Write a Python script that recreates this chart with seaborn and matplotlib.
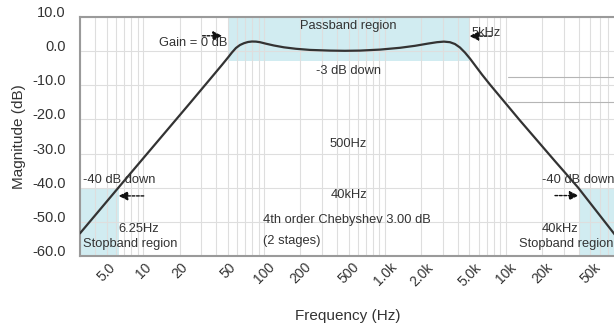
import numpy as np
import pandas as pd
import matplotlib
matplotlib.use("Agg")
import matplotlib.pyplot as plt
from matplotlib.ticker import LogLocator, NullFormatter
import seaborn as sns

# ---- data ----
freq_hz = [3.00, 6.80, 13.76, 24.4, 39.2, 44.9, 50.3, 54.2, 58.5, 63.2, 68.2, 73.6, 79.4,
           85.7, 92.5, 103.7, 120.7, 146.0, 183.5, 239.7, 350.6, 466.7, 621, 908.7, 1331,
           1771, 2267, 2692, 3075, 3448, 3792, 4171, 4587, 5046, 5657, 6342, 7385, 13080,
           25470, 39480, 80000]
magnitude_db = [-53.36, -38.4, -25.6, -15.2, -6.5, -4.0, -1.86, -0.40, 0.92, 1.80, 2.33, 2.68,
                2.82, 2.79, 2.62, 2.18, 1.65, 1.12, 0.69, 0.36, 0.16, 0.10, 0.16, 0.45, 0.98,
                1.56, 2.21, 2.62, 2.79, 2.62, 2.09, 1.07, -0.40, -2.16, -4.50, -6.84, -9.77,
                -20.3, -32.2, -39.9, -53.8]

x_ticks = [5, 10, 20, 50, 100, 200, 500, 1000, 2000, 5000, 10000, 20000, 50000]
x_tick_labels = ["5.0", "10", "20", "50", "100", "200", "500", "1.0k", "2.0k", "5.0k", "10k", "20k", "50k"]
y_ticks = [10, 0, -10, -20, -30, -40, -50, -60]
y_tick_labels = ["10.0", "0.0", "-10.0", "-20.0", "-30.0", "-40.0", "-50.0", "-60.0"]

passband = (50, 5000, -3, 10)            # f_low, f_high, dB_low, dB_high
stopband_low = (3, 6.25, -60, -40)
stopband_high = (40000, 80000, -60, -40)
extra_lines_db = [-7.66, -15.0]
extra_lines_f = (10350, 80000)

sns.set_theme(style="white")
plt.rcParams["font.family"] = ["Liberation Sans", "DejaVu Sans"]

TXT = "#333333"
BLUE = "#d1ecf1"

fig = plt.figure(figsize=(6.14, 3.30), dpi=100)
W, H = 614, 330
left, right, top, bottom = 80, 615, 17, 256
ax = fig.add_axes([left / W, (H - bottom) / H, (right - left) / W, (bottom - top) / H])

ax.set_xscale("log")
ax.set_xlim(3, 80000)
ax.set_ylim(-60, 10)

# shaded regions
for (f0, f1, d0, d1) in [passband, stopband_low, stopband_high]:
    ax.fill_between([f0, f1], d0, d1, color=BLUE, lw=0, zorder=0.2)

# grid
ax.set_axisbelow(True)
ax.xaxis.set_minor_locator(LogLocator(base=10, subs=np.arange(2, 10), numticks=30))
ax.xaxis.set_minor_formatter(NullFormatter())
ax.grid(True, which="both", axis="x", color="#dedede", lw=0.8, zorder=0.5)
ax.grid(True, which="major", axis="y", color="#dedede", lw=0.8, zorder=0.5)

# horizontal lines at right
for d in extra_lines_db:
    ax.plot(list(extra_lines_f), [d, d], color="#b5b5b5", lw=0.8, zorder=1)

# curve
df = pd.DataFrame({"f": freq_hz, "db": magnitude_db})
sns.lineplot(data=df, x="f", y="db", ax=ax, color="#333333", lw=1.6, sort=False, zorder=3)

# ticks
ax.set_xticks(x_ticks, x_tick_labels, rotation=45, ha="center", va="top")
ax.set_yticks(y_ticks, y_tick_labels, va="baseline")
ax.tick_params(axis="x", which="both", length=0, pad=3, labelsize=10, labelcolor=TXT)
ax.tick_params(axis="y", which="both", length=0, pad=10.5, labelsize=10.5, labelcolor=TXT)

ax.set_xlabel("Frequency (Hz)", fontsize=11, color=TXT)
ax.set_ylabel("Magnitude (dB)", fontsize=11, color=TXT)
ax.xaxis.set_label_coords(0.5, -0.222)
ax.yaxis.set_label_coords(-0.1, 0.5)

for s in ["left", "bottom", "top"]:
    ax.spines[s].set_color("#9a9a9a")
    ax.spines[s].set_linewidth(1.5)
ax.spines["right"].set_visible(False)

fs = 9.3
kw = dict(fontsize=fs, color=TXT, va="center", zorder=4)
ax.text(500, 7.4, "Passband region", ha="center", **kw)
ax.text(50, 2.4, "Gain = 0 dB", ha="right", **kw)
ax.text(5231, 5.4, "5kHz", ha="left", **kw)
ax.text(500, -5.9, "-3 dB down", ha="center", **kw)
ax.text(500, -27.1, "500Hz", ha="center", **kw)
ax.text(500, -42.2, "40kHz", ha="center", **kw)
ax.text(98, -49.4, "4th order Chebyshev 3.00 dB", ha="left", **kw)
ax.text(98, -55.7, "(2 stages)", ha="left", **kw)
ax.text(3.17, -37.8, "-40 dB down", ha="left", **kw)
ax.text(6.25, -52.0, "6.25Hz", ha="left", **kw)
ax.text(3.17, -56.4, "Stopband region", ha="left", **kw)
ax.text(19800, -37.8, "-40 dB down", ha="left", **kw)
ax.text(40000, -52.0, "40kHz", ha="right", **kw)
ax.text(12800, -56.4, "Stopband region", ha="left", **kw)

ap = dict(arrowstyle="-|>,head_length=0.45,head_width=0.22", color="#111111", lw=1.0,
          linestyle=(0, (2, 1.2)), shrinkA=0, shrinkB=0)
ax.annotate("", xy=(45, 4.5), xytext=(31, 4.5), arrowprops=ap, zorder=5)
ax.annotate("", xy=(5000, 4.4), xytext=(7600, 4.4), arrowprops=ap, zorder=5)
ax.annotate("", xy=(6.25, -42.4), xytext=(10.1, -42.4), arrowprops=ap, zorder=5)
ax.annotate("", xy=(40000, -42.3), xytext=(25500, -42.3), arrowprops=ap, zorder=5)

fig.savefig("out.png", dpi=100)
